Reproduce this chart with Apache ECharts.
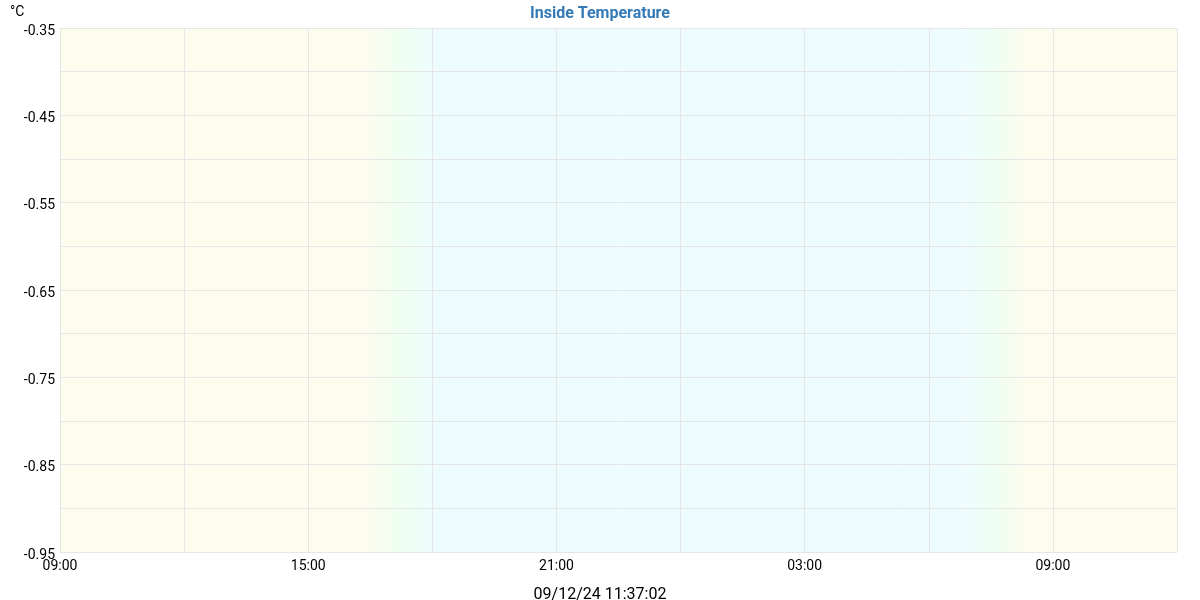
<!DOCTYPE html>
<html>
<head>
<meta charset="utf-8">
<script src="https://cdn.jsdelivr.net/npm/echarts@6/dist/echarts.min.js"></script>
<style>html,body{margin:0;padding:0;background:#fff}#c{width:1200px;height:600px}</style>
</head>
<body>
<div id="c"></div>
<script>
// Data
const chartTitle = 'Inside Temperature';
const unitLabel = '°C';
const timestamp = '09/12/24 11:37:02';
const startHour = 9;                 // x axis starts at 09:00
const spanHours = 27;                // to 12:00 next day
const xTickHours = [0, 3, 6, 9, 12, 15, 18, 21, 24, 27];
const xTickLabels = ['09:00', '', '15:00', '', '21:00', '', '03:00', '', '09:00', ''];
const yMin = -0.95, yMax = -0.35;
const yTickLabels = ['-0.95', '', '-0.85', '', '-0.75', '', '-0.65', '', '-0.55', '', '-0.45', '', '-0.35'];
const temperature = [];              // no readings plotted
// day/night shading, in hours after 09:00
const dayBands = [[0, 7.33], [23.4, 27]];
const nightBands = [[9.0, 21.94]];
const duskBand = [7.33, 9.0];
const dawnBand = [21.94, 23.4];

const YEL = '#fefcee', CYA = '#eefcfd', GRN = '#effff0';
function grad(stops) {
  return {type: 'linear', x: 0, y: 0, x2: 1, y2: 0,
    colorStops: stops.map((c, i) => ({offset: i / (stops.length - 1), color: c}))};
}
const areas = [];
dayBands.forEach(b => areas.push([{xAxis: b[0], itemStyle: {color: YEL}}, {xAxis: b[1]}]));
nightBands.forEach(b => areas.push([{xAxis: b[0], itemStyle: {color: CYA}}, {xAxis: b[1]}]));
areas.push([{xAxis: duskBand[0], itemStyle: {color: grad([YEL, GRN, CYA])}}, {xAxis: duskBand[1]}]);
areas.push([{xAxis: dawnBand[0], itemStyle: {color: grad([CYA, GRN, YEL])}}, {xAxis: dawnBand[1]}]);

const chart = echarts.init(document.getElementById('c'));
chart.setOption({
  animation: false,
  textStyle: {fontFamily: 'Roboto'},
  title: [
    {text: chartTitle, left: 'center', top: 6, padding: 0,
     textStyle: {color: '#337ab7', fontSize: 16, fontWeight: 'bold', fontFamily: 'Roboto'}},
    {text: unitLabel, left: 10, top: 5, padding: 0,
     textStyle: {color: '#000', fontSize: 14, fontWeight: 'normal', fontFamily: 'Roboto'}},
    {text: timestamp, left: 'center', top: 587, padding: 0,
     textStyle: {color: '#000', fontSize: 16, fontWeight: 'normal', fontFamily: 'Roboto'}}
  ],
  grid: {left: 60, right: 23, top: 28, bottom: 48, containLabel: false},
  xAxis: {
    type: 'value', min: 0, max: spanHours, interval: 3, z: 10,
    axisLine: {show: false}, axisTick: {show: false},
    splitLine: {show: true, lineStyle: {color: '#e6e6e6', width: 1}},
    axisLabel: {color: '#000', fontSize: 14, margin: 7, showMaxLabel: true,
      formatter: v => { const i = xTickHours.indexOf(Math.round(v)); return i >= 0 ? xTickLabels[i] : ''; }}
  },
  yAxis: {
    type: 'value', min: yMin, max: yMax, interval: 0.05, z: 10,
    axisLine: {show: false}, axisTick: {show: false},
    splitLine: {show: true, lineStyle: {color: '#e6e6e6', width: 1}},
    axisLabel: {color: '#000', fontSize: 14, margin: 5, verticalAlign: 'top', lineHeight: 14, padding: [-4, 0, 0, 0],
      formatter: (v) => { const i = Math.round((v - yMin) / 0.05); return yTickLabels[i] || ''; }}
  },
  series: [{
    type: 'line', data: temperature, silent: true, z: 1,
    markArea: {silent: true, data: areas}
  }]
});
</script>
</body>
</html>
